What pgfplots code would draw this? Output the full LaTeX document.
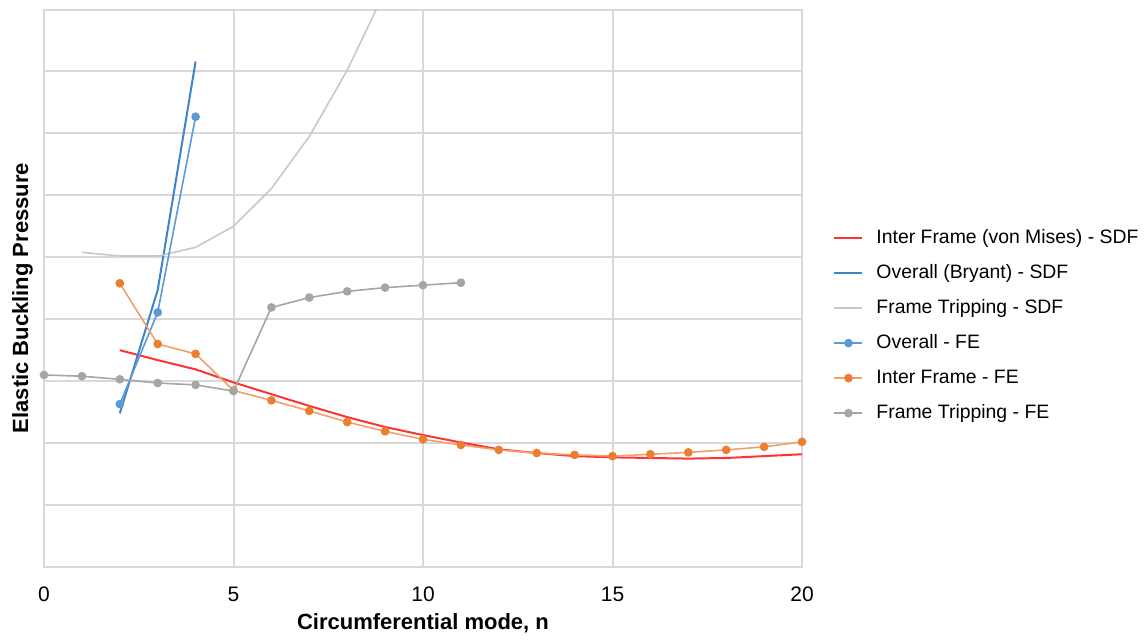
\documentclass[border=0pt]{standalone}
\usepackage{pgfplots}
\pgfplotsset{compat=1.18}
\usepackage{fontspec}
\setmainfont{Liberation Sans}
\definecolor{gridgray}{HTML}{D9D9D9}
\definecolor{sdfred}{HTML}{FF3333}
\definecolor{sdfblue}{HTML}{3D85C6}
\definecolor{sdfgray}{HTML}{C8C8C8}
\definecolor{feblue}{HTML}{5B9BD5}
\definecolor{feorange}{HTML}{ED7D31}
\definecolor{feorangeline}{HTML}{F0A06A}
\definecolor{fegray}{HTML}{A5A5A5}
\begin{document}
\begin{tikzpicture}
\begin{axis}[
  name=ax,
  scale only axis, width=379pt, height=278.75pt,
  xmin=0, xmax=20, ymin=0, ymax=9,
  xtick={0,5,10,15,20}, ytick={0,1,...,9}, yticklabels={},
  major tick length=0pt,
  grid=major, grid style={gridgray, line width=1pt},
  axis line style={gridgray, line width=1pt},
  /pgf/number format/assume math mode=true,
  xticklabel style={font=\fontsize{10.5}{12}\selectfont, anchor=base, yshift=-17.4pt},
  xlabel={\bfseries Circumferential mode, n},
  ylabel={\bfseries Elastic Buckling Pressure},
  xlabel style={font=\fontsize{11}{13}\selectfont, at={(rel axis cs:0.5,0)}, anchor=base, yshift=-31pt},
  ylabel style={font=\fontsize{11}{13}\selectfont, at={(rel axis cs:-0.0211,0.4825)}, anchor=base, rotate=0},
  legend cell align=left,
  legend style={draw=none, fill=none, font=\fontsize{9.7}{11}\selectfont,
    at={(rel axis cs:1.041,0.433)}, anchor=west, inner sep=0pt,
    nodes={inner sep=0pt, text height=7pt, text depth=2pt},
    row sep=8.5pt,
    /tikz/every odd column/.style={column sep=6.5pt}},
  legend image code/.code={\draw[mark repeat=2,mark phase=2,#1] plot coordinates {(0pt,0pt)(7pt,0pt)(14pt,0pt)};},
]
% Inter Frame (von Mises) - SDF
\addplot[sdfred, line width=1pt] coordinates {
  (2,3.50) (3,3.34) (4,3.19) (5,2.98) (6,2.79) (7,2.60) (8,2.42) (9,2.26) (10,2.13)
  (11,2.01) (12,1.90) (13,1.84) (14,1.79) (15,1.77) (16,1.76) (17,1.75) (18,1.76)
  (19,1.79) (20,1.82)};
% Overall (Bryant) - SDF
\addplot[sdfblue, line width=1pt] coordinates {(2,2.48) (3,4.47) (4,8.16)};
% Frame Tripping - SDF
\addplot[sdfgray, line width=0.8pt] coordinates {
  (1,5.08) (2,5.02) (3,5.02) (4,5.16) (5,5.50) (6,6.11) (7,6.95) (8,8.02) (9,9.30) (10,10.9)};
% Overall - FE
\addplot[feblue, line width=0.8pt, mark=*, mark size=1.75pt, mark options={fill=feblue, draw=feblue}] coordinates {
  (2,2.63) (3,4.11) (4,7.27)};
% Inter Frame - FE
\addplot[feorangeline, line width=0.8pt, mark=*, mark size=1.75pt, mark options={fill=feorange, draw=feorange}] coordinates {
  (2,4.58) (3,3.60) (4,3.44) (5,2.85) (6,2.69) (7,2.52) (8,2.34) (9,2.19) (10,2.06)
  (11,1.97) (12,1.89) (13,1.84) (14,1.81) (15,1.79) (16,1.82) (17,1.85) (18,1.89)
  (19,1.94) (20,2.02)};
% Frame Tripping - FE
\addplot[fegray, line width=0.8pt, mark=*, mark size=1.75pt, mark options={fill=fegray, draw=fegray}] coordinates {
  (0,3.10) (1,3.08) (2,3.03) (3,2.97) (4,2.94) (5,2.84) (6,4.19) (7,4.35) (8,4.45)
  (9,4.51) (10,4.55) (11,4.59)};
\legend{Inter Frame (von Mises) - SDF, Overall (Bryant) - SDF, Frame Tripping - SDF,
  Overall - FE, Inter Frame - FE, Frame Tripping - FE}
\end{axis}
\path (ax.south west) ++(-22pt,-36pt) rectangle ++(572pt,319.5pt);
\end{tikzpicture}
\end{document}
